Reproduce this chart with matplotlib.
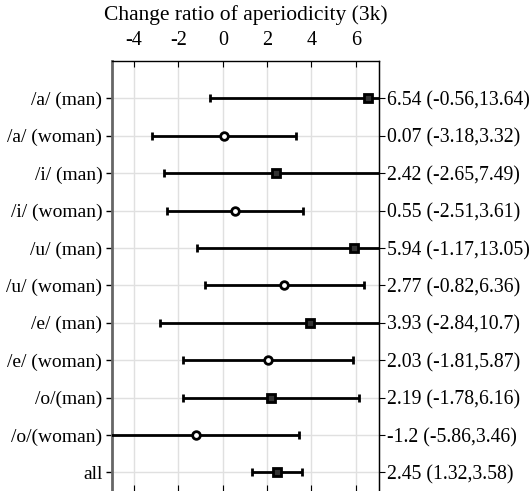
import matplotlib
matplotlib.use('Agg')
import matplotlib.pyplot as plt
import numpy as np

plt.rcParams['font.family'] = ['Liberation Serif', 'DejaVu Serif']
plt.rcParams['axes.unicode_minus'] = False

labels = ['/a/ (man)', '/a/ (woman)', '/i/ (man)', '/i/ (woman)', '/u/ (man)',
          '/u/ (woman)', '/e/ (man)', '/e/ (woman)', '/o/(man)', '/o/(woman)', 'all']
means = [6.54, 0.07, 2.42, 0.55, 5.94, 2.77, 3.93, 2.03, 2.19, -1.2, 2.45]
lower = [-0.56, -3.18, -2.65, -2.51, -1.17, -0.82, -2.84, -1.81, -1.78, -5.86, 1.32]
upper = [13.64, 3.32, 7.49, 3.61, 13.05, 6.36, 10.7, 5.87, 6.16, 3.46, 3.58]
right_labels = ['6.54 (-0.56,13.64)', '0.07 (-3.18,3.32)', '2.42 (-2.65,7.49)',
                '0.55 (-2.51,3.61)', '5.94 (-1.17,13.05)', '2.77 (-0.82,6.36)',
                '3.93 (-2.84,10.7)', '2.03 (-1.81,5.87)', '2.19 (-1.78,6.16)',
                '-1.2 (-5.86,3.46)', '2.45 (1.32,3.58)']
xticks = [-4, -2, 0, 2, 4, 6]

fig = plt.figure(figsize=(5.31, 4.91), dpi=100)
ax = fig.add_axes([112/531, 0, (379-112)/531, 1 - 61/491])

y = np.arange(len(labels))
for i in range(len(labels)):
    marker = 'o' if 'woman' in labels[i] else 's'
    mfc = 'white' if marker == 'o' else '#333333'
    ax.errorbar(means[i], y[i],
                xerr=[[means[i] - lower[i]], [upper[i] - means[i]]],
                fmt=marker, color='black', ecolor='black', elinewidth=2,
                capsize=3, capthick=2, markersize=5.5, mfc=mfc, mec='black',
                mew=2, zorder=3)

ax.set_xlim(-5, 7.05)
ax.set_ylim(len(labels) - 0.5, -1)
ax.set_xticks(xticks)
ax.set_yticks(y)
ax.set_yticklabels(labels, fontsize=14)
ax.grid(True, color='#e0e0e0', linewidth=1, zorder=0)
ax.set_axisbelow(True)

ax.xaxis.set_ticks_position('both')
ax.xaxis.set_label_position('top')
ax.tick_params(axis='x', which='both', direction='in', length=4, labeltop=True,
               labelbottom=False, labelsize=14.5, pad=8)
ax.tick_params(axis='y', direction='out', length=4, width=1, labelsize=14, pad=3)
ax.set_xlabel('Change ratio of aperiodicity (3k)', fontsize=15.5, labelpad=8)

ax.spines['bottom'].set_visible(False)
ax.spines['left'].set_color('#666666')
ax.spines['left'].set_linewidth(2)
ax.spines['top'].set_linewidth(1)
ax.spines['right'].set_linewidth(1)

ax2 = ax.twinx()
ax2.set_ylim(ax.get_ylim())
ax2.set_yticks(y)
ax2.set_yticklabels(right_labels, fontsize=14.2)
ax2.tick_params(axis='y', direction='out', length=4, labelsize=14.2, pad=2)
for s in ['bottom', 'left', 'top']:
    ax2.spines[s].set_visible(False)

fig.savefig('out.png', dpi=100)
